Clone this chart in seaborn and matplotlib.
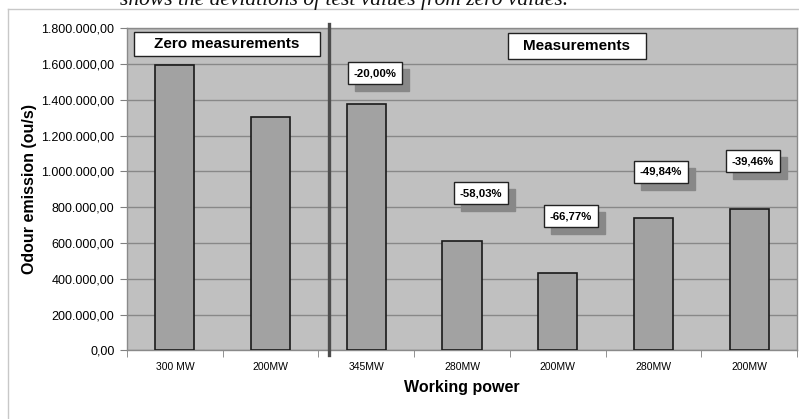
import matplotlib
matplotlib.use("Agg")
import matplotlib.pyplot as plt
import seaborn as sns
import pandas as pd
from matplotlib.ticker import FuncFormatter, MultipleLocator, FixedLocator
from matplotlib.lines import Line2D
from matplotlib.patches import Rectangle

# ---- data ----
categories = ["300 MW", "200MW", "345MW", "280MW", "200MW", "280MW", "200MW"]
emission = [1593000, 1305000, 1376000, 613000, 434000, 741000, 790000]
deviation_labels = ["-20,00%", "-58,03%", "-66,77%", "-49,84%", "-39,46%"]
deviation_bars = [2, 3, 4, 5, 6]
# label anchor (x offset from bar, y in data units) - layout
label_dx = [0.09, 0.20, 0.14, 0.08, 0.04]
label_y = [1550000, 879000, 751000, 997000, 1058000]
group_labels = ["Zero measurements", "Measurements"]

plt.rcParams['font.family'] = ['Liberation Sans', 'DejaVu Sans']

df = pd.DataFrame({"slot": list(range(len(categories))), "value": emission})

W, H = 799, 419
fig = plt.figure(figsize=(W / 100, H / 100), dpi=100)
fig.patch.set_facecolor("white")

L, R, T, B = 127, 797, 28.3, 350.4
ax = fig.add_axes([L / W, 1 - B / H, (R - L) / W, (B - T) / H])
ax.set_facecolor("#c0c0c0")

sns.barplot(data=df, x="slot", y="value", color="#a2a2a2", width=0.41,
            edgecolor="#1a1a1a", linewidth=1.2, saturation=1, ax=ax, zorder=3)

ax.set_xlim(-0.5, len(categories) - 0.5)
ax.set_ylim(0, 1800000)
ax.yaxis.set_major_locator(MultipleLocator(200000))
ax.yaxis.set_major_formatter(FuncFormatter(
    lambda v, p: f"{v:,.2f}".replace(",", "X").replace(".", ",").replace("X", ".")))
ax.grid(axis="y", color="#888888", linewidth=1.0, zorder=0)
ax.grid(axis="x", visible=False)
ax.set_axisbelow(True)

ax.set_xticks(range(len(categories)))
ax.set_xticklabels(categories, fontsize=7.5)
ax.xaxis.set_minor_locator(FixedLocator([i - 0.5 for i in range(len(categories) + 1)]))
ax.tick_params(axis="x", which="major", length=0, pad=8)
ax.tick_params(axis="x", which="minor", length=5, color="#808080")
ax.tick_params(axis="y", length=5, color="#808080", labelsize=9, pad=4)

for s in ax.spines.values():
    s.set_color("#8a8a8a")
    s.set_linewidth(1.0)

ax.set_xlabel("Working power", fontsize=11.5, fontweight="bold", labelpad=6)
ax.set_ylabel("Odour emission (ou/s)", fontsize=11.5, fontweight="bold", labelpad=3)

# separator line
ax.plot([1.61, 1.61], [-25000, 1825000], color="#4d4d4d", linewidth=2.4,
        clip_on=False, zorder=5)

# group header boxes (axes fraction)
def header(text, x0, x1, y0, y1):
    ax.add_patch(Rectangle((x0, y0), x1 - x0, y1 - y0, transform=ax.transAxes,
                           facecolor="white", edgecolor="#222222", linewidth=1.0,
                           zorder=6, clip_on=False))
    ax.text((x0 + x1) / 2, (y0 + y1) / 2, text, transform=ax.transAxes,
            ha="center", va="center", fontsize=11, fontweight="bold", zorder=7)

header(group_labels[0], (134 - L) / (R - L), (320 - L) / (R - L),
       (B - 56) / (B - T), (B - 32) / (B - T))
header(group_labels[1], (508 - L) / (R - L), (646 - L) / (R - L),
       (B - 59) / (B - T), (B - 33) / (B - T))

# deviation labels with shadow
for lab, bi, dx, yv in zip(deviation_labels, deviation_bars, label_dx, label_y):
    xv = bi + dx
    ax.annotate(lab, xy=(xv, yv), xytext=(7, -7), textcoords="offset pixels",
                ha="center", va="center", fontsize=8.2, fontweight="bold",
                color="#888888",
                bbox=dict(boxstyle="square,pad=0.5", facecolor="#888888",
                          edgecolor="#888888", linewidth=1.0), zorder=6)
    ax.annotate(lab, xy=(xv, yv), ha="center", va="center", fontsize=8.2,
                fontweight="bold", color="black",
                bbox=dict(boxstyle="square,pad=0.5", facecolor="white",
                          edgecolor="#222222", linewidth=1.0), zorder=7)

# outer chart-area border (cropped)
fig.add_artist(Line2D([8 / W, 8 / W], [0, 1 - 9.5 / H], color="#c8c8c8", linewidth=1.0))
fig.add_artist(Line2D([8 / W, 1], [1 - 9.5 / H, 1 - 9.5 / H], color="#c8c8c8", linewidth=1.0))

# cropped caption from surrounding document
fig.text(120 / W, 1 - 5 / H, "shows the deviations of test values from zero values.",
         fontsize=15.5, fontstyle="italic", family=["Liberation Serif", "DejaVu Serif"],
         ha="left", va="baseline", color="#111111")

fig.savefig("out.png", dpi=100)
